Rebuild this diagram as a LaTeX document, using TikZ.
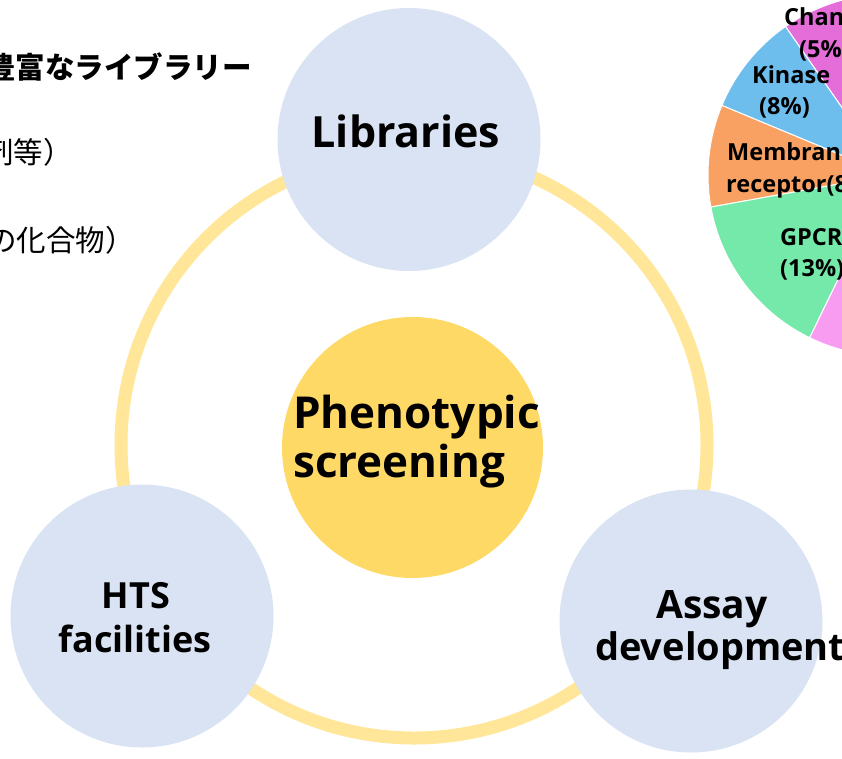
\documentclass[tikz,border=0pt]{standalone}
\usepackage{fontspec}
\setmainfont{Open Sans}
\newfontfamily\jp{Noto Sans CJK JP}
\definecolor{bubblecol}{HTML}{DAE3F3}
\definecolor{hubcol}{HTML}{FFD966}
\definecolor{ringcol}{HTML}{FFE699}
\definecolor{piemag}{HTML}{E56DDA}
\definecolor{pieblue}{HTML}{6DBDED}
\definecolor{pieorange}{HTML}{F8A163}
\definecolor{piegreen}{HTML}{74E9A9}
\definecolor{piepink}{HTML}{F79CF0}
\begin{document}
\begin{tikzpicture}[x=1pt,y=-1pt,
  bubble/.style={circle, fill=bubblecol, minimum size=263pt, inner sep=0pt},
  hub/.style={circle, fill=hubcol, minimum size=261pt, inner sep=0pt},
  lbl/.style={font=\bfseries\fontsize{#1}{#1}\selectfont, inner sep=0pt, text=black},
  pielbl/.style={font=\bfseries\fontsize{23.5}{23.5}\selectfont, inner sep=0pt, anchor=base west},
  jpbold/.style={font=\jp\bfseries\fontsize{29.5}{29.5}\selectfont, inner sep=0pt, anchor=base east},
  jpreg/.style={font=\jp\fontsize{29.5}{29.5}\selectfont, inner sep=0pt, anchor=base east},
  slice/.style={fill=#1, draw=white, line width=1pt}
]
\useasboundingbox (0,0) rectangle (842,758);
\clip (0,0) rectangle (842,758);

% pie chart (top right)
\coordinate (pc) at (889,175);
\path[slice=piemag]    (pc) -- ++(-60:181)    arc[start angle=-60,    end angle=-124.9, radius=181] -- cycle;
\path[slice=pieblue]   (pc) -- ++(-124.9:181) arc[start angle=-124.9, end angle=-157.4, radius=181] -- cycle;
\path[slice=pieorange] (pc) -- ++(-157.4:181) arc[start angle=-157.4, end angle=-190.2, radius=181] -- cycle;
\path[slice=piegreen]  (pc) -- ++(-190.2:181) arc[start angle=-190.2, end angle=-244,   radius=181] -- cycle;
\path[slice=piepink]   (pc) -- ++(-244:181)   arc[start angle=-244,   end angle=-300,   radius=181] -- cycle;

\node[pielbl] (chan1) at (784,25) {Channel};
\node[pielbl] (chan2) at (799,57) {(5\%)};
\node[pielbl] (kin1) at (752,83) {Kinase};
\node[pielbl] (kin2) at (759,114) {(8\%)};
\node[pielbl] (mem1) at (727,160) {Membrane};
\node[pielbl] (mem2) at (726,192) {receptor(8\%)};
\node[pielbl] (gpcr1) at (780,245) {GPCR};
\node[pielbl] (gpcr2) at (780,276) {(13\%)};

% Japanese text (top left, cut off)
\node[jpbold] (jp1) at (252,78) {豊富なライブラリー};
\node[jpreg] (jp2) at (73,163) {剤等）};
\node[jpreg] (jp3) at (135,251) {の化合物）};

% ring
\coordinate (rc) at (414,445);
\draw[ringcol, line width=13pt] (rc) circle[radius=293];

% circles
\node[hub] (hubc) at (412.5,447.5) {};
\node[bubble] (lib) at (409,139.5) {};
\node[bubble] (hts) at (142,616) {};
\node[bubble] (assay) at (691,621) {};

% labels
\node[lbl=43, anchor=base] (libt) at (406,147) {Libraries};
\node[lbl=44, anchor=base west] (pheno1) at (293,428) {Phenotypic};
\node[lbl=44, anchor=base west] (pheno2) at (293,477) {screening};
\node[lbl=36, anchor=base] (hts1) at (136,608) {HTS};
\node[lbl=36, anchor=base] (hts2) at (135,652) {facilities};
\node[lbl=39, anchor=base] (as1) at (712,618) {Assay};
\node[lbl=38, anchor=base west] (as2) at (595,660) {development};
\end{tikzpicture}
\end{document}
